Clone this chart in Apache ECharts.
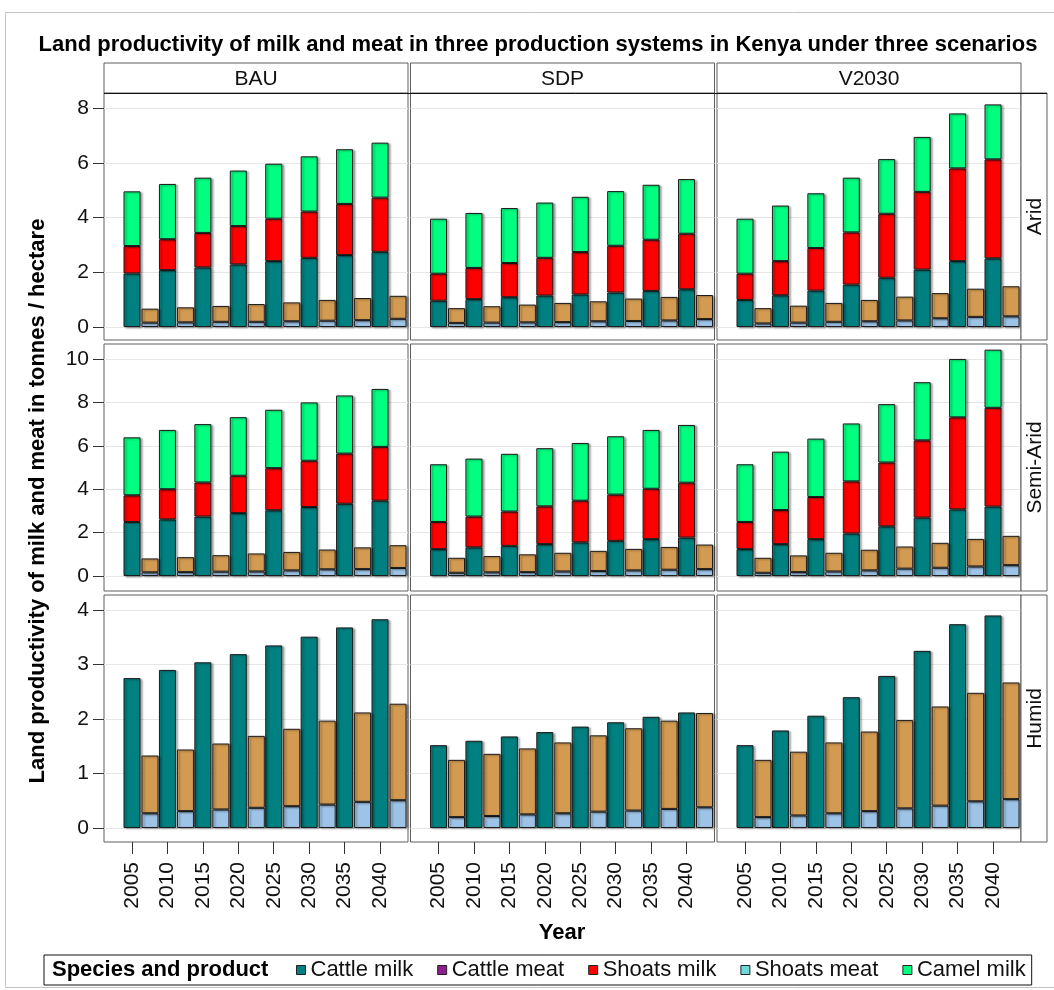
<!DOCTYPE html>
<html>
<head>
<meta charset="utf-8">
<title>Land productivity of milk and meat in Kenya</title>
<script src="https://cdn.jsdelivr.net/npm/echarts@6/dist/echarts.min.js"></script>
<style>
  html, body { margin: 0; padding: 0; background: #fff; }
  #chart { width: 1054px; height: 990px; }
</style>
</head>
<body>
<div id="chart"></div>
<script>
// ---- categories ----
const years = ['2005', '2010', '2015', '2020', '2025', '2030', '2035', '2040'];
const scenarios = ['BAU', 'SDP', 'V2030'];
const systems = ['Arid', 'Semi-Arid', 'Humid'];
const seriesNames = ['Cattle milk', 'Cattle meat', 'Shoats milk', 'Shoats meat', 'Camel milk'];

// ---- tick labels per row (tonnes / hectare) ----
const aridTicks = [0, 2, 4, 6, 8];
const semiAridTicks = [0, 2, 4, 6, 8, 10];
const humidTicks = [0, 1, 2, 3, 4];

// ---- Arid ----
const aridBauCattleMilk   = [1.96, 2.08, 2.18, 2.29, 2.41, 2.53, 2.63, 2.75];
const aridBauShoatsMilk   = [1.00, 1.13, 1.26, 1.40, 1.55, 1.69, 1.87, 1.98];
const aridBauCamelMilk    = [2.00, 2.02, 2.02, 2.03, 2.01, 2.02, 2.00, 2.01];
const aridBauCattleMeat   = [0.51, 0.55, 0.58, 0.65, 0.69, 0.76, 0.81, 0.84];
const aridBauShoatsMeat   = [0.16, 0.17, 0.19, 0.19, 0.21, 0.23, 0.25, 0.30];

const aridSdpCattleMilk   = [0.96, 1.02, 1.09, 1.15, 1.19, 1.26, 1.32, 1.38];
const aridSdpShoatsMilk   = [0.99, 1.14, 1.25, 1.38, 1.55, 1.71, 1.87, 2.03];
const aridSdpCamelMilk    = [2.01, 2.01, 2.01, 2.02, 2.02, 2.00, 2.01, 2.00];
const aridSdpCattleMeat   = [0.54, 0.60, 0.65, 0.70, 0.73, 0.82, 0.86, 0.88];
const aridSdpShoatsMeat   = [0.15, 0.16, 0.17, 0.18, 0.21, 0.22, 0.24, 0.29];

const aridV2030CattleMilk = [0.99, 1.16, 1.33, 1.55, 1.80, 2.10, 2.41, 2.51];
const aridV2030ShoatsMilk = [0.96, 1.25, 1.56, 1.91, 2.34, 2.84, 3.39, 3.62];
const aridV2030CamelMilk  = [2.01, 2.03, 2.00, 2.00, 2.00, 2.01, 2.01, 2.01];
const aridV2030CattleMeat = [0.56, 0.62, 0.69, 0.78, 0.87, 0.92, 1.03, 1.10];
const aridV2030ShoatsMeat = [0.13, 0.16, 0.19, 0.21, 0.24, 0.32, 0.37, 0.39];

// ---- Semi-Arid ----
const semiBauCattleMilk   = [2.49, 2.61, 2.74, 2.90, 3.03, 3.18, 3.33, 3.47];
const semiBauShoatsMilk   = [1.23, 1.39, 1.57, 1.72, 1.94, 2.13, 2.31, 2.48];
const semiBauCamelMilk    = [2.67, 2.73, 2.69, 2.70, 2.69, 2.69, 2.68, 2.67];
const semiBauCattleMeat   = [0.64, 0.69, 0.76, 0.83, 0.85, 0.91, 1.00, 1.05];
const semiBauShoatsMeat   = [0.17, 0.18, 0.20, 0.21, 0.26, 0.31, 0.32, 0.37];

const semiSdpCattleMilk   = [1.24, 1.32, 1.39, 1.47, 1.55, 1.62, 1.70, 1.77];
const semiSdpShoatsMilk   = [1.25, 1.42, 1.58, 1.74, 1.92, 2.13, 2.32, 2.53];
const semiSdpCamelMilk    = [2.66, 2.67, 2.66, 2.68, 2.66, 2.69, 2.71, 2.66];
const semiSdpCattleMeat   = [0.69, 0.75, 0.82, 0.86, 0.93, 0.99, 1.05, 1.13];
const semiSdpShoatsMeat   = [0.15, 0.17, 0.18, 0.21, 0.23, 0.26, 0.29, 0.32];

const semiV2030CattleMilk = [1.24, 1.47, 1.70, 1.96, 2.29, 2.69, 3.07, 3.20];
const semiV2030ShoatsMilk = [1.25, 1.57, 1.94, 2.40, 2.94, 3.56, 4.24, 4.55];
const semiV2030CamelMilk  = [2.66, 2.69, 2.69, 2.67, 2.69, 2.68, 2.69, 2.68];
const semiV2030CattleMeat = [0.69, 0.77, 0.86, 0.95, 1.02, 1.15, 1.27, 1.35];
const semiV2030ShoatsMeat = [0.15, 0.18, 0.21, 0.26, 0.34, 0.38, 0.44, 0.50];

// ---- Humid (cattle milk only on the milk side) ----
const humidBauCattleMilk   = [2.75, 2.90, 3.04, 3.19, 3.35, 3.51, 3.68, 3.83];
const humidBauCattleMeat   = [1.06, 1.13, 1.21, 1.32, 1.42, 1.54, 1.64, 1.77];
const humidBauShoatsMeat   = [0.27, 0.31, 0.34, 0.37, 0.40, 0.43, 0.48, 0.51];

const humidSdpCattleMilk   = [1.52, 1.60, 1.68, 1.76, 1.86, 1.94, 2.04, 2.12];
const humidSdpCattleMeat   = [1.05, 1.14, 1.21, 1.30, 1.40, 1.51, 1.62, 1.73];
const humidSdpShoatsMeat   = [0.20, 0.22, 0.25, 0.27, 0.30, 0.32, 0.35, 0.38];

const humidV2030CattleMilk = [1.52, 1.79, 2.06, 2.40, 2.79, 3.25, 3.74, 3.90];
const humidV2030CattleMeat = [1.05, 1.17, 1.30, 1.46, 1.62, 1.82, 1.99, 2.14];
const humidV2030ShoatsMeat = [0.20, 0.23, 0.27, 0.31, 0.36, 0.41, 0.49, 0.53];

// ---- panel table: [system][scenario] ----
const panels = [
  [
    { cattleMilk: aridBauCattleMilk, shoatsMilk: aridBauShoatsMilk, camelMilk: aridBauCamelMilk, cattleMeat: aridBauCattleMeat, shoatsMeat: aridBauShoatsMeat },
    { cattleMilk: aridSdpCattleMilk, shoatsMilk: aridSdpShoatsMilk, camelMilk: aridSdpCamelMilk, cattleMeat: aridSdpCattleMeat, shoatsMeat: aridSdpShoatsMeat },
    { cattleMilk: aridV2030CattleMilk, shoatsMilk: aridV2030ShoatsMilk, camelMilk: aridV2030CamelMilk, cattleMeat: aridV2030CattleMeat, shoatsMeat: aridV2030ShoatsMeat }
  ],
  [
    { cattleMilk: semiBauCattleMilk, shoatsMilk: semiBauShoatsMilk, camelMilk: semiBauCamelMilk, cattleMeat: semiBauCattleMeat, shoatsMeat: semiBauShoatsMeat },
    { cattleMilk: semiSdpCattleMilk, shoatsMilk: semiSdpShoatsMilk, camelMilk: semiSdpCamelMilk, cattleMeat: semiSdpCattleMeat, shoatsMeat: semiSdpShoatsMeat },
    { cattleMilk: semiV2030CattleMilk, shoatsMilk: semiV2030ShoatsMilk, camelMilk: semiV2030CamelMilk, cattleMeat: semiV2030CattleMeat, shoatsMeat: semiV2030ShoatsMeat }
  ],
  [
    { cattleMilk: humidBauCattleMilk, cattleMeat: humidBauCattleMeat, shoatsMeat: humidBauShoatsMeat },
    { cattleMilk: humidSdpCattleMilk, cattleMeat: humidSdpCattleMeat, shoatsMeat: humidSdpShoatsMeat },
    { cattleMilk: humidV2030CattleMilk, cattleMeat: humidV2030CattleMeat, shoatsMeat: humidV2030ShoatsMeat }
  ]
];
const rowTicks = [aridTicks, semiAridTicks, humidTicks];

// ---- layout ----
const FONT = '"Liberation Sans", Arial, sans-serif';
const COL_LEFT = [104, 410.5, 717];
const PANEL_W = 304;
const ROW_TOP = [93, 344, 595];
const PANEL_H = 247;
const HEADER_TOP = 63, HEADER_H = 30;
const ROWSTRIP_W = 26;
const BAND = 35.43;                         // width of one year band
const PAD_X = (PANEL_W - BAND * years.length) / 2;
// y extents include the padding below 0 and above the top tick
const rowRange = [
  { min: -0.475, max: 8.556 },
  { min: -0.69, max: 10.69 },
  { min: -0.257, max: 4.275 }
];

const colors = {
  cattleMilk: '#008080',
  cattleMeat: '#d39b52',
  shoatsMilk: '#ff0000',
  shoatsMeat: '#9dc3e6',
  camelMilk: '#00ff80'
};
const legendColors = {
  'Cattle milk': '#008080',
  'Cattle meat': '#8e1e8e',
  'Shoats milk': '#ff0000',
  'Shoats meat': '#6fd8d8',
  'Camel milk': '#00ff80'
};

const barStyle = (color) => ({
  color: color,
  borderColor: '#1c1c1c',
  borderWidth: 1,
  shadowColor: 'rgba(0,0,0,0.35)',
  shadowBlur: 2,
  shadowOffsetX: 2,
  shadowOffsetY: 1
});

const grids = [], xAxes = [], yAxes = [], series = [], graphics = [];

systems.forEach((sys, r) => {
  scenarios.forEach((sc, c) => {
    const frame = grids.length;   // framed panel: gridlines, y ticks
    const plot = frame + 1;       // year bands holding the bars
    const key = '-' + r + '-' + c;
    grids.push({
      left: COL_LEFT[c], top: ROW_TOP[r], width: PANEL_W, height: PANEL_H,
      show: true, borderColor: '#5e5e5e', borderWidth: 1, backgroundColor: '#fff'
    });
    grids.push({
      left: COL_LEFT[c] + PAD_X, top: ROW_TOP[r], width: BAND * years.length, height: PANEL_H,
      show: false
    });

    xAxes.push({ type: 'value', gridIndex: frame, min: 0, max: 1, show: false });
    yAxes.push({
      type: 'value', gridIndex: frame, min: rowRange[r].min, max: rowRange[r].max,
      axisLine: { show: false, onZero: false },
      axisTick: { show: c === 0, customValues: rowTicks[r], length: 11, lineStyle: { color: '#333' } },
      axisLabel: { show: c === 0, customValues: rowTicks[r], margin: 15, fontSize: 21, color: '#111', fontFamily: FONT },
      splitLine: { show: true, lineStyle: { color: '#e6e6e6', width: 1 } }
    });

    xAxes.push({
      type: 'category', gridIndex: plot, data: years, boundaryGap: true,
      axisLine: { show: false, onZero: false },
      splitLine: { show: false },
      axisTick: { show: r === 2, alignWithLabel: true, length: 12, lineStyle: { color: '#333' } },
      axisLabel: { show: r === 2, rotate: 90, margin: 20, fontSize: 21, color: '#111', fontFamily: FONT, interval: 0 }
    });
    yAxes.push({
      type: 'value', gridIndex: plot, min: rowRange[r].min, max: rowRange[r].max, show: false,
      splitLine: { show: false }
    });

    const p = panels[r][c];
    const common = { type: 'bar', xAxisIndex: plot, yAxisIndex: plot, barWidth: 17, barGap: '6%', clip: false };
    // empty slot on the left so the milk bar sits on the tick and the meat bar just right of it
    series.push(Object.assign({}, common, { name: '_slot', stack: 'slot' + key, data: years.map(() => '-'), silent: true }));
    series.push(Object.assign({}, common, { name: 'Cattle milk', stack: 'milk' + key, data: p.cattleMilk, itemStyle: barStyle(colors.cattleMilk) }));
    series.push(Object.assign({}, common, { name: 'Shoats meat', stack: 'meat' + key, data: p.shoatsMeat, itemStyle: barStyle(colors.shoatsMeat) }));
    series.push(Object.assign({}, common, { name: 'Cattle meat', stack: 'meat' + key, data: p.cattleMeat, itemStyle: barStyle(colors.cattleMeat) }));
    if (p.shoatsMilk) {
      series.push(Object.assign({}, common, { name: 'Shoats milk', stack: 'milk' + key, data: p.shoatsMilk, itemStyle: barStyle(colors.shoatsMilk) }));
    }
    if (p.camelMilk) {
      series.push(Object.assign({}, common, { name: 'Camel milk', stack: 'milk' + key, data: p.camelMilk, itemStyle: barStyle(colors.camelMilk) }));
    }
  });
});

// outer frame
graphics.push({ type: 'rect', shape: { x: 5.5, y: 12.5, width: 1100, height: 975 },
  style: { fill: 'none', stroke: '#c4c4c4', lineWidth: 1 }, silent: true, z: 0 });

// column headers
scenarios.forEach((sc, c) => {
  graphics.push({ type: 'rect', shape: { x: COL_LEFT[c], y: HEADER_TOP, width: PANEL_W, height: HEADER_H },
    style: { fill: '#fff', stroke: '#5e5e5e', lineWidth: 1 }, z: 5 });
  graphics.push({ type: 'text', x: COL_LEFT[c] + PANEL_W / 2, y: HEADER_TOP + HEADER_H / 2 + 1,
    style: { text: sc, fontSize: 21, fontFamily: FONT, fill: '#111', align: 'center', verticalAlign: 'middle' }, z: 6 });
});
// header bottom rule
graphics.push({ type: 'line', shape: { x1: COL_LEFT[0], y1: HEADER_TOP + HEADER_H + 0.5, x2: COL_LEFT[2] + PANEL_W + ROWSTRIP_W, y2: HEADER_TOP + HEADER_H + 0.5 },
  style: { stroke: '#111', lineWidth: 1 }, z: 7 });

// row strips on the right
systems.forEach((sys, r) => {
  const x = COL_LEFT[2] + PANEL_W;
  graphics.push({ type: 'rect', shape: { x: x, y: ROW_TOP[r], width: ROWSTRIP_W, height: PANEL_H },
    style: { fill: '#fff', stroke: '#5e5e5e', lineWidth: 1 }, z: 5 });
  graphics.push({ type: 'text', x: x + ROWSTRIP_W / 2 + 1, y: ROW_TOP[r] + PANEL_H / 2, rotation: Math.PI / 2,
    style: { text: sys, fontSize: 21, fontFamily: FONT, fill: '#111', align: 'center', verticalAlign: 'middle' }, z: 6 });
});

// titles
graphics.push({ type: 'text', x: 538, y: 45,
  style: { text: 'Land productivity of milk and meat in three production systems in Kenya under three scenarios',
    fontSize: 22, fontWeight: 'bold', fontFamily: FONT, fill: '#000', align: 'center', verticalAlign: 'middle' } });
graphics.push({ type: 'text', x: 38, y: 501, rotation: Math.PI / 2,
  style: { text: 'Land productivity of milk and meat in tonnes / hectare',
    fontSize: 22, fontWeight: 'bold', fontFamily: FONT, fill: '#000', align: 'center', verticalAlign: 'middle' } });
graphics.push({ type: 'text', x: 562, y: 933,
  style: { text: 'Year', fontSize: 22, fontWeight: 'bold', fontFamily: FONT, fill: '#000', align: 'center', verticalAlign: 'middle' } });
graphics.push({ type: 'text', x: 52, y: 970,
  style: { text: 'Species and product', fontSize: 22, fontWeight: 'bold', fontFamily: FONT, fill: '#000', align: 'left', verticalAlign: 'middle' }, z: 20 });

const chart = echarts.init(document.getElementById('chart'), null, { renderer: 'canvas' });
chart.setOption({
  backgroundColor: '#fff',
  animation: false,
  grid: grids,
  xAxis: xAxes,
  yAxis: yAxes,
  series: series,
  legend: {
    left: 44, top: 955,
    padding: [4, 6, 4, 252],
    borderColor: '#111', borderWidth: 1, backgroundColor: '#fff',
    itemWidth: 9, itemHeight: 9, itemGap: 24,
    icon: 'rect',
    selectedMode: false,
    textStyle: { fontSize: 22, fontFamily: FONT, color: '#111' },
    data: seriesNames.map(n => ({
      name: n,
      itemStyle: { color: legendColors[n], borderColor: '#222', borderWidth: 1 }
    }))
  },
  graphic: graphics
});
</script>
</body>
</html>
